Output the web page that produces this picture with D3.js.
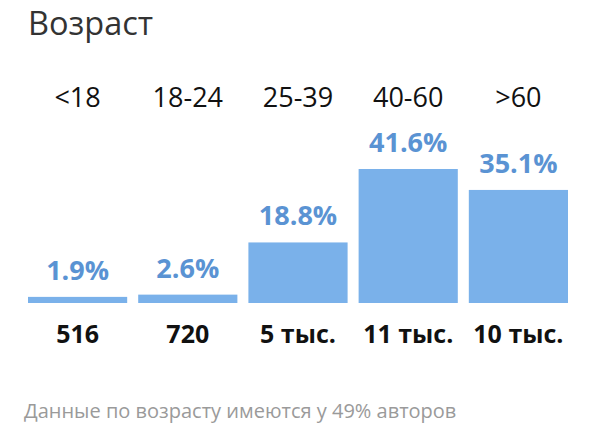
<!DOCTYPE html>
<html>
<head>
<meta charset="utf-8">
<script src="https://cdn.jsdelivr.net/npm/d3@7"></script>
<style>
  body { margin: 0; background: #fff; }
  text { font-family: "Open Sans", sans-serif; }
</style>
</head>
<body>
<svg id="age" width="608" height="448"></svg>
<script>
const groups   = ["<18", "18-24", "25-39", "40-60", ">60"];
const shares   = [1.9, 2.6, 18.8, 41.6, 35.1];
const counts   = ["516", "720", "5 тыс.", "11 тыс.", "10 тыс."];
const title    = "Возраст";
const footnote = "Данные по возрасту имеются у 49% авторов";

const svg  = d3.select("#age"),
      base = 303,
      x    = d3.scaleBand().domain(groups).range([28, 568]).paddingInner(0.1),
      y    = d3.scaleLinear().domain([0, 41.6]).range([base, 169]);

// title
svg.append("text")
    .attr("x", 28)
    .attr("y", 35)
    .style("font-size", "32.5px")
    .attr("fill", "#333")
    .text(title);

// age groups on top
svg.selectAll(".grp")
  .data(groups)
  .enter().append("text")
    .attr("class", "grp")
    .attr("x", d => x(d) + x.bandwidth()/2)
    .attr("y", 107)
    .attr("text-anchor", "middle")
    .style("font-size", "27px")
    .attr("fill", "#111")
    .text(d => d);

// bars
svg.selectAll(".bar")
  .data(shares)
  .enter().append("rect")
    .attr("class", "bar")
    .attr("x", (d, i) => x(groups[i]))
    .attr("y", d => y(d))
    .attr("width", x.bandwidth())
    .attr("height", d => base - y(d))
    .attr("fill", "#7ab1ea");

// percent labels
svg.selectAll(".pct")
  .data(shares)
  .enter().append("text")
    .attr("class", "pct")
    .attr("x", (d, i) => x(groups[i]) + x.bandwidth()/2)
    .attr("y", d => y(d) - 17)
    .attr("text-anchor", "middle")
    .style("font-size", "27px")
    .style("font-weight", "bold")
    .attr("fill", "#5a93d3")
    .text(d => d.toFixed(1) + "%");

// counts under bars
svg.selectAll(".cnt")
  .data(counts)
  .enter().append("text")
    .attr("class", "cnt")
    .attr("x", (d, i) => x(groups[i]) + x.bandwidth()/2)
    .attr("y", 343)
    .attr("text-anchor", "middle")
    .style("font-size", "25px")
    .style("font-weight", "bold")
    .attr("fill", "#111")
    .text(d => d);

//footnote
svg.append("text")
    .attr("x", 24)
    .attr("y", 418)
    .style("font-size", "20px")
    .attr("fill", "#9a9a9a")
    .text(footnote);
</script>
</body>
</html>
